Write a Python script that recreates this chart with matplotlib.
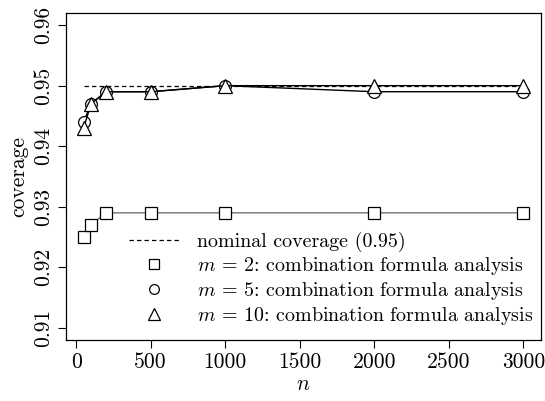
import matplotlib
matplotlib.use("Agg")
import matplotlib.pyplot as plt
from matplotlib.lines import Line2D

plt.rcParams['font.family'] = 'cmr10'
plt.rcParams['mathtext.fontset'] = 'cm'
plt.rcParams['axes.unicode_minus'] = False
plt.rcParams['axes.formatter.use_mathtext'] = True

n = [50, 100, 200, 500, 1000, 2000, 3000]
cov_m2 = [0.925, 0.927, 0.929, 0.929, 0.929, 0.929, 0.929]
cov_m5 = [0.944, 0.947, 0.949, 0.949, 0.950, 0.949, 0.949]
cov_m10 = [0.943, 0.947, 0.949, 0.949, 0.950, 0.950, 0.950]
nominal = 0.95
xticks = [0, 500, 1000, 1500, 2000, 2500, 3000]
yticks = [0.91, 0.92, 0.93, 0.94, 0.95, 0.96]
labels = ['nominal coverage (0.95)',
          r'$m$ = 2: combination formula analysis',
          r'$m$ = 5: combination formula analysis',
          r'$m$ = 10: combination formula analysis']

fs = 15.5
lfs = 14.4
fig = plt.figure(figsize=(5.45, 4.01), dpi=100)
ax = fig.add_axes([66/545, (401-340)/401, 475/545, 327/401])

ax.plot([n[0], n[-1]], [nominal, nominal], ls=(0, (3.5, 2.5)), color='black', lw=0.9, zorder=1)
ax.plot(n, cov_m2, color='#707070', lw=1.0, marker='s', ms=8, mfc='white', mec='black', mew=0.9, zorder=2)
ax.plot(n, cov_m5, color='black', lw=1.0, marker='o', ms=8.5, mfc='white', mec='black', mew=0.9, zorder=3)
ax.plot(n, cov_m10, color='black', lw=1.0, marker='^', ms=10, mfc='white', mec='black', mew=0.9, zorder=4)

ax.set_xlim(50 - 0.04*2950, 3000 + 0.04*2950)
ax.set_ylim(0.91 - 0.002, 0.96 + 0.002)
ax.set_xticks(xticks)
ax.set_xticklabels([str(x) for x in xticks], fontsize=fs)
ax.set_yticks(yticks)
ax.set_yticklabels(['%.2f' % y for y in yticks], fontsize=fs, rotation=90, va='center')
ax.tick_params(direction='out', length=6, width=0.8, pad=3)
for s in ax.spines.values():
    s.set_linewidth(0.9)

ax.set_xlabel(r'$n$', fontsize=fs, labelpad=2)
ax.set_ylabel('coverage', fontsize=fs, labelpad=4)

handles = [Line2D([], [], ls=(0, (3.5, 2.5)), color='black', lw=0.9),
           Line2D([], [], ls='none', marker='s', ms=7, mfc='white', mec='black', mew=0.9),
           Line2D([], [], ls='none', marker='o', ms=7, mfc='white', mec='black', mew=0.9),
           Line2D([], [], ls='none', marker='^', ms=8, mfc='white', mec='black', mew=0.9)]
ax.legend(handles, labels, loc='lower right', bbox_to_anchor=(1.0 + 5/475, 0.0), frameon=False,
          fontsize=lfs, handlelength=2.5, handletextpad=0.9, labelspacing=0.15,
          borderaxespad=0.0, borderpad=0.65)

fig.savefig('out.png', dpi=100)
